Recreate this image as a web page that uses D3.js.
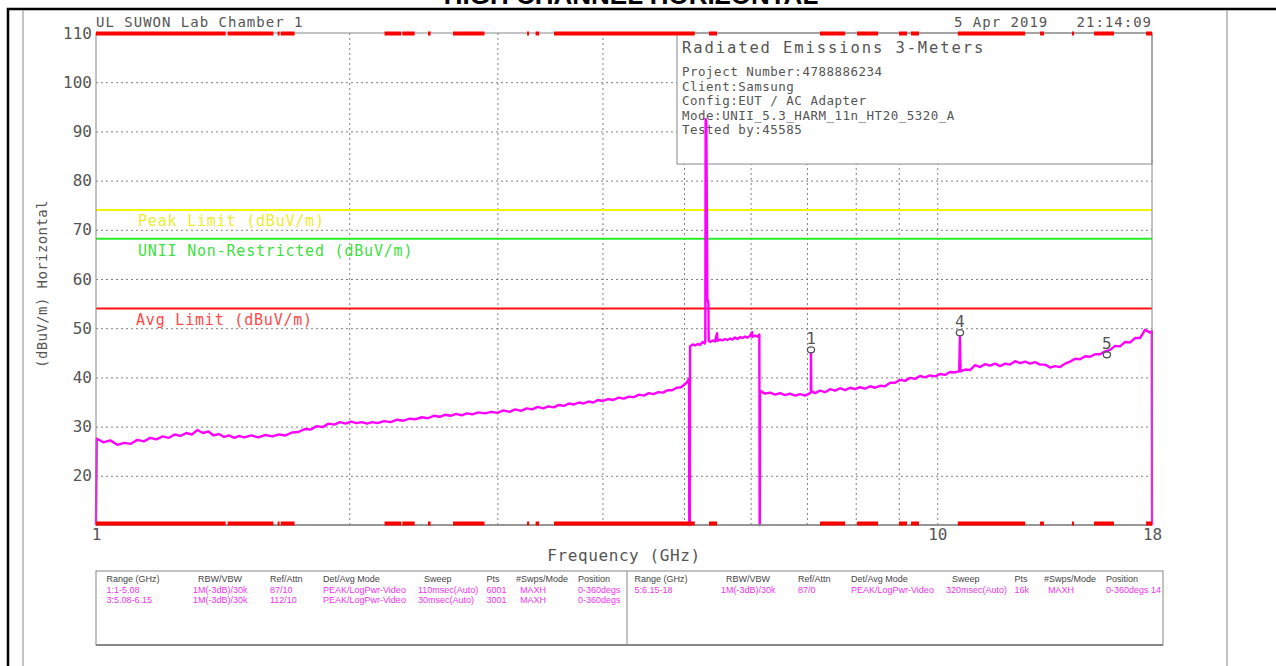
<!DOCTYPE html>
<html>
<head>
<meta charset="utf-8">
<script src="https://cdn.jsdelivr.net/npm/d3@7"></script>
<style>
  html, body { margin: 0; padding: 0; background: #fff; }
  svg { display: block; }
  text { font-family: "DejaVu Sans Mono", monospace; }
</style>
</head>
<body>
<svg id="chart" width="1276" height="666"></svg>
<script>
// ---------- chart data ----------
const pageTitle = "HIGH CHANNEL HORIZONTAL";
const siteName = "UL SUWON Lab Chamber 1";
const stamp = "5 Apr 2019   21:14:09";
const yTicks = [20, 30, 40, 50, 60, 70, 80, 90, 100, 110];
const xGridGHz = [2, 3, 4, 5, 6, 7, 8, 9, 10];
const xTickLabels = [1, 10, 18];
const xTitle = "Frequency (GHz)";
const yTitle = "(dBuV/m) Horizontal";

const limitNames  = ["Peak Limit (dBuV/m)", "UNII Non-Restricted (dBuV/m)", "Avg Limit (dBuV/m)"];
const limitLevels = [74, 68.2, 54];

const infoTitle = "Radiated Emissions 3-Meters";
const infoLines = [
  "Project Number:4788886234",
  "Client:Samsung",
  "Config:EUT / AC Adapter",
  "Mode:UNII_5.3_HARM_11n_HT20_5320_A",
  "Tested by:45585"
];

// sweep range 1: 1 - 5.08 GHz
const range1Freq = [1.000, 1.002, 1.020, 1.040, 1.060, 1.080, 1.100, 1.120, 1.140, 1.160, 1.180, 1.200,
  1.220, 1.240, 1.260, 1.280, 1.300, 1.320, 1.340, 1.360, 1.380, 1.400, 1.420, 1.440, 1.460, 1.480,
  1.500, 1.530, 1.560, 1.590, 1.620, 1.650, 1.680, 1.710, 1.740, 1.770, 1.800, 1.830, 1.860, 1.890,
  1.920, 1.950, 1.980, 2.010, 2.040, 2.070, 2.100, 2.130, 2.160, 2.200, 2.240, 2.280, 2.320, 2.360,
  2.400, 2.440, 2.480, 2.520, 2.560, 2.600, 2.640, 2.680, 2.720, 2.760, 2.800, 2.850, 2.900, 2.950,
  3.000, 3.050, 3.100, 3.150, 3.200, 3.250, 3.300, 3.350, 3.400, 3.450, 3.500, 3.550, 3.600, 3.650,
  3.700, 3.750, 3.800, 3.850, 3.900, 3.950, 4.000, 4.060, 4.120, 4.180, 4.240, 4.300, 4.360, 4.420,
  4.480, 4.540, 4.600, 4.660, 4.720, 4.780, 4.840, 4.900, 4.960, 5.010, 5.050, 5.070, 5.072];
const range1Level = [10, 27.6, 26.8, 27.2, 26.3, 26.7, 26.5, 27.3, 27.0, 27.7, 27.4, 28.0,
  27.7, 28.4, 28.1, 28.7, 28.4, 29.3, 28.7, 29.0, 28.2, 28.5, 27.9, 28.2, 27.7, 28.1,
  27.8, 28.2, 27.8, 28.3, 28.0, 28.4, 28.2, 28.8, 28.9, 29.5, 29.4, 30.1, 29.9, 30.6,
  30.4, 30.9, 30.6, 31.0, 30.7, 30.9, 30.6, 30.9, 30.7, 31.1, 30.9, 31.4, 31.2, 31.6,
  31.5, 31.9, 31.7, 32.2, 32.0, 32.4, 32.2, 32.6, 32.3, 32.7, 32.5, 32.9, 32.7, 33.0,
  32.8, 33.3, 33.0, 33.5, 33.2, 33.7, 33.5, 34.0, 33.7, 34.1, 33.9, 34.4, 34.2, 34.7,
  34.5, 34.9, 34.7, 35.1, 34.9, 35.4, 35.2, 35.6, 35.4, 35.9, 35.7, 36.1, 36.0, 36.5,
  36.3, 36.8, 36.6, 37.0, 36.9, 37.4, 37.4, 37.9, 38.0, 38.6, 39.2, 39.8, 10];

// sweep range 3: 5.08 - 6.15 GHz
const range3Freq = [5.080, 5.083, 5.120, 5.153, 5.190, 5.224, 5.260, 5.290, 5.300, 5.305, 5.315,
  5.330, 5.345, 5.350, 5.369, 5.405, 5.443, 5.473, 5.480, 5.518, 5.555, 5.594, 5.630, 5.671, 5.710,
  5.749, 5.790, 5.828, 5.868, 5.908, 5.950, 5.989, 6.024, 6.030, 6.072, 6.110, 6.145, 6.150];
const range3Level = [10, 46.3, 46.7, 46.5, 46.8, 46.6, 47.2, 46.9, 47.2, 92.5, 92.0,
  56.0, 55.0, 47.5, 47.2, 47.5, 47.3, 49.0, 47.4, 47.7, 47.5, 47.8, 47.6, 47.9, 47.7,
  48.1, 47.8, 48.2, 48.0, 48.3, 48.1, 48.4, 49.2, 48.2, 48.5, 48.3, 48.7, 10];

// sweep range 5: 6.15 - 18 GHz
const range5Freq = [6.152, 6.157, 6.242, 6.328, 6.415, 6.503, 6.593, 6.684, 6.776, 6.869, 6.964,
  7.060, 7.075, 7.078, 7.084, 7.157, 7.256, 7.356, 7.457, 7.560, 7.664, 7.770, 7.877, 7.985, 8.095,
  8.207, 8.320, 8.435, 8.551, 8.669, 8.788, 8.909, 9.032, 9.156, 9.283, 9.411, 9.540, 9.672, 9.805,
  9.940, 10.077, 10.216, 10.357, 10.500, 10.620, 10.640, 10.660, 10.791, 10.940, 11.091, 11.244,
  11.399, 11.556, 11.715, 11.876, 12.040, 12.206, 12.374, 12.545, 12.718, 12.893, 13.071, 13.251,
  13.433, 13.618, 13.806, 13.996, 14.189, 14.385, 14.583, 14.784, 14.987, 15.194, 15.403, 15.615,
  15.831, 16.049, 16.270, 16.494, 16.721, 16.952, 17.185, 17.422, 17.662, 17.905, 17.990, 18.000];
const range5Level = [10, 37.3, 36.7, 36.9, 36.5, 36.8, 36.4, 36.7, 36.3, 36.6, 36.3,
  36.8, 37.0, 44.9, 37.2, 36.8, 37.3, 37.0, 37.6, 37.3, 37.8, 37.4, 37.9, 37.6, 38.0,
  37.7, 38.2, 37.9, 38.3, 38.2, 38.9, 38.9, 39.5, 39.3, 39.9, 39.7, 40.3, 40.0, 40.4,
  40.2, 40.7, 40.5, 41.1, 41.0, 41.3, 48.3, 41.2, 41.6, 41.5, 42.5, 42.1,
  42.7, 42.4, 42.8, 42.3, 42.8, 42.6, 43.3, 42.9, 43.2, 42.8, 43.1, 42.6,
  42.6, 42.0, 42.3, 42.1, 42.8, 43.2, 43.8, 43.7, 44.3, 44.2, 44.7, 44.7,
  45.3, 45.6, 46.4, 46.3, 47.2, 47.1, 48.0, 48.0, 49.7, 49.1, 49.4, 10];

const markerIds   = ["1", "4", "5"];
const markerFreq  = [7.078, 10.64, 15.91];
const markerLevel = [45.6, 49.1, 44.6];

// frequency spans flagged along the top and bottom edges
const scanBandsGHz = [[1.0, 1.426], [1.434, 1.625], [1.644, 1.653], [1.658, 1.722], [2.203, 2.306],
  [2.313, 2.392], [2.481, 2.499], [2.657, 2.896], [3.254, 3.272], [3.331, 3.363], [3.503, 5.15],
  [5.354, 5.473], [7.254, 7.771], [8.03, 8.505], [9.005, 9.205], [9.306, 9.512], [10.58, 12.72],
  [13.25, 13.39], [14.46, 14.54], [15.36, 16.22], [17.71, 18.0]];

const tableHeader = ["Range (GHz)", "RBW/VBW", "Ref/Attn", "Det/Avg Mode", "Sweep", "Pts", "#Swps/Mode", "Position"];
const tableRowsLeft = [
  ["1:1-5.08", "1M(-3dB)/30k", "87/10", "PEAK/LogPwr-Video", "110msec(Auto)", "6001", "MAXH", "0-360degs"],
  ["3:5.08-6.15", "1M(-3dB)/30k", "112/10", "PEAK/LogPwr-Video", "30msec(Auto)", "3001", "MAXH", "0-360degs"]
];
const tableRowsRight = [
  ["5:6.15-18", "1M(-3dB)/30k", "87/0", "PEAK/LogPwr-Video", "320msec(Auto)", "16k", "MAXH", "0-360degs 14"]
];

// ---------- layout ----------
const plot = { left: 96, right: 1152, top: 33, bottom: 525 };
const gridColor = "#808080";
const textColor = "#555";
const traceColor = "#ff00ff";
const limitColors = ["#f4f400", "#22ee22", "#ff1010"];
const limitTextColors = ["#ecec30", "#40e040", "#ff4848"];
const limitLabelPos = [[138, 226], [138, 256], [136, 325]];

const svg = d3.select("#chart");
const x = d3.scaleLog().domain([1, 18]).range([plot.left, plot.right]);
const y = d3.scaleLinear().domain([10, 110]).range([plot.bottom, plot.top]);

// page title, partly above the sheet edge
svg.append("text")
  .attr("x", 631).attr("y", 4)
  .attr("text-anchor", "middle")
  .style("font-family", "'Liberation Sans', Arial, sans-serif")
  .style("font-weight", "bold")
  .style("font-size", "26px")
  .attr("fill", "#000")
  .text(pageTitle);

// sheet frame
svg.append("line").attr("x1", 7).attr("x2", 1276).attr("y1", 9).attr("y2", 9)
  .attr("stroke", "#000").attr("stroke-width", 2.5);
svg.append("line").attr("x1", 8).attr("x2", 8).attr("y1", 8).attr("y2", 666)
  .attr("stroke", "#000").attr("stroke-width", 2.5);
[23, 1227].forEach(px => {
  svg.append("line").attr("x1", px).attr("x2", px).attr("y1", 10).attr("y2", 666)
    .attr("stroke", "#888").attr("stroke-width", 1);
});

// header texts
svg.append("text").attr("x", plot.left).attr("y", 27)
  .attr("fill", textColor).style("font-size", "14px").style("letter-spacing", "1px")
  .text(siteName);
svg.append("text").attr("x", plot.right).attr("y", 27).attr("text-anchor", "end")
  .attr("fill", textColor).style("font-size", "14px").style("letter-spacing", "1px")
  .style("white-space", "pre")
  .text(stamp);

// horizontal grid + y labels
const yAxisG = svg.append("g").attr("transform", `translate(${plot.left},0)`)
  .call(d3.axisLeft(y).tickValues(yTicks).tickFormat(d3.format("d"))
    .tickSize(-(plot.right - plot.left)).tickPadding(4));
yAxisG.select(".domain").remove();
yAxisG.selectAll(".tick line")
  .attr("stroke", gridColor).attr("stroke-dasharray", "2,3")
  .filter(d => d === 110).remove();
yAxisG.selectAll(".tick text")
  .attr("fill", textColor).style("font-size", "16px")
  .style("font-family", "'DejaVu Sans Mono', monospace");

// vertical grid
const xGridG = svg.append("g").attr("transform", `translate(0,${plot.bottom})`)
  .call(d3.axisBottom(x).tickValues(xGridGHz).tickFormat("")
    .tickSize(-(plot.bottom - plot.top)));
xGridG.select(".domain").remove();
xGridG.selectAll(".tick line").attr("stroke", gridColor).attr("stroke-dasharray", "2,3");

// x labels
const xAxisG = svg.append("g").attr("transform", `translate(0,${plot.bottom})`)
  .call(d3.axisBottom(x).tickValues(xTickLabels).tickFormat(d3.format("d"))
    .tickSize(0).tickPadding(4));
xAxisG.select(".domain").remove();
xAxisG.selectAll(".tick text")
  .attr("fill", textColor).style("font-size", "16px")
  .style("font-family", "'DejaVu Sans Mono', monospace");

// axis titles
svg.append("text").attr("x", (plot.left + plot.right) / 2).attr("y", 561)
  .attr("text-anchor", "middle").attr("fill", textColor)
  .style("font-size", "16px").style("letter-spacing", "0.6px")
  .text(xTitle);
svg.append("text")
  .attr("transform", "translate(47,284) rotate(-90)")
  .attr("text-anchor", "middle").attr("fill", textColor)
  .style("font-size", "14px").style("letter-spacing", "0.4px")
  .text(yTitle);

// info box
const info = { left: 677, top: plot.top, right: plot.right, bottom: 164 };
svg.append("rect")
  .attr("x", info.left).attr("y", info.top)
  .attr("width", info.right - info.left).attr("height", info.bottom - info.top)
  .attr("fill", "#fff").attr("stroke", "#888").attr("stroke-width", 1);
svg.append("text").attr("x", 682).attr("y", 53)
  .attr("fill", textColor).style("font-size", "15.5px").style("letter-spacing", "1.9px")
  .text(infoTitle);
svg.selectAll("text.info-line").data(infoLines).join("text")
  .attr("class", "info-line")
  .attr("x", 682).attr("y", (d, i) => 76 + i * 14.6)
  .attr("fill", textColor).style("font-size", "12.5px").style("letter-spacing", "0.5px")
  .text(d => d);

// limit lines
limitLevels.forEach((lv, i) => {
  svg.append("line")
    .attr("x1", plot.left).attr("x2", plot.right)
    .attr("y1", y(lv)).attr("y2", y(lv))
    .attr("stroke", limitColors[i]).attr("stroke-width", 2);
  svg.append("text")
    .attr("x", limitLabelPos[i][0]).attr("y", limitLabelPos[i][1])
    .attr("fill", limitTextColors[i])
    .style("font-size", "15px").style("letter-spacing", "0.8px")
    .text(limitNames[i]);
});

// measured trace
const tracePts = []
  .concat(range1Freq.map((f, i) => [f, range1Level[i]]))
  .concat(range3Freq.map((f, i) => [f, range3Level[i]]))
  .concat(range5Freq.map((f, i) => [f, range5Level[i]]));
svg.append("path")
  .datum(tracePts)
  .attr("fill", "none")
  .attr("stroke", traceColor)
  .attr("stroke-width", 2.4)
  .attr("stroke-linejoin", "round")
  .attr("d", d3.line().x(d => x(d[0])).y(d => y(d[1])));

// markers
markerIds.forEach((id, i) => {
  const mx = x(markerFreq[i]), my = y(markerLevel[i]);
  svg.append("ellipse").attr("cx", mx).attr("cy", my).attr("rx", 3.6).attr("ry", 3)
    .attr("fill", "none").attr("stroke", "#555").attr("stroke-width", 1.3);
  svg.append("text").attr("x", mx).attr("y", my - 6)
    .attr("text-anchor", "middle").attr("fill", textColor)
    .style("font-size", "16px")
    .text(id);
});

// plot frame
svg.append("rect")
  .attr("x", plot.left).attr("y", plot.top)
  .attr("width", plot.right - plot.left).attr("height", plot.bottom - plot.top)
  .attr("fill", "none").attr("stroke", "#888").attr("stroke-width", 1);
svg.append("line").attr("x1", plot.left).attr("x2", plot.right)
  .attr("y1", plot.bottom).attr("y2", plot.bottom)
  .attr("stroke", "#888").attr("stroke-width", 1.5);

// flagged spans on both edges
[plot.top - 1.5, plot.bottom - 3.5].forEach(yy => {
  svg.append("g").selectAll("rect").data(scanBandsGHz).join("rect")
    .attr("x", d => x(d[0])).attr("width", d => Math.max(1.5, x(d[1]) - x(d[0])))
    .attr("y", yy).attr("height", 4)
    .attr("fill", "#ff0000");
});

// sweep settings table
const table = { left: 96, right: 1163, top: 571, bottom: 645, split: 627 };
svg.append("rect")
  .attr("x", table.left).attr("y", table.top)
  .attr("width", table.right - table.left).attr("height", table.bottom - table.top)
  .attr("fill", "#fff").attr("stroke", "#888").attr("stroke-width", 1);
svg.append("line").attr("x1", table.left).attr("x2", table.right)
  .attr("y1", table.bottom).attr("y2", table.bottom)
  .attr("stroke", "#888").attr("stroke-width", 2);
svg.append("line").attr("x1", table.split).attr("x2", table.split)
  .attr("y1", table.top).attr("y2", table.bottom)
  .attr("stroke", "#888").attr("stroke-width", 1);

svg.append("defs").append("clipPath").attr("id", "tableClip")
  .append("rect").attr("x", table.left).attr("y", table.top)
  .attr("width", table.right - table.left - 1).attr("height", table.bottom - table.top);

const headCols = [10.5, 102, 174, 227, 328, 390.5, 420, 482];
const rowCols  = [10.5, 97, 174, 227, 322, 390.5, 424, 482];
const tableFont = "'Liberation Sans', Arial, sans-serif";
function drawTable(originX, rows) {
  const g = svg.append("g").attr("clip-path", "url(#tableClip)")
    .style("font-family", tableFont).style("font-size", "9px");
  g.selectAll("text.h").data(tableHeader).join("text")
    .attr("x", (d, i) => originX + headCols[i]).attr("y", 582)
    .attr("fill", "#444").style("font-family", tableFont)
    .text(d => d);
  rows.forEach((row, r) => {
    g.selectAll(`text.r${r}`).data(row).join("text")
      .attr("x", (d, i) => originX + rowCols[i]).attr("y", 592.5 + r * 10.8)
      .attr("fill", "#ee33ee").style("font-family", tableFont)
      .text(d => d);
  });
}
drawTable(table.left, tableRowsLeft);
drawTable(table.left + 528, tableRowsRight);
</script>
</body>
</html>
